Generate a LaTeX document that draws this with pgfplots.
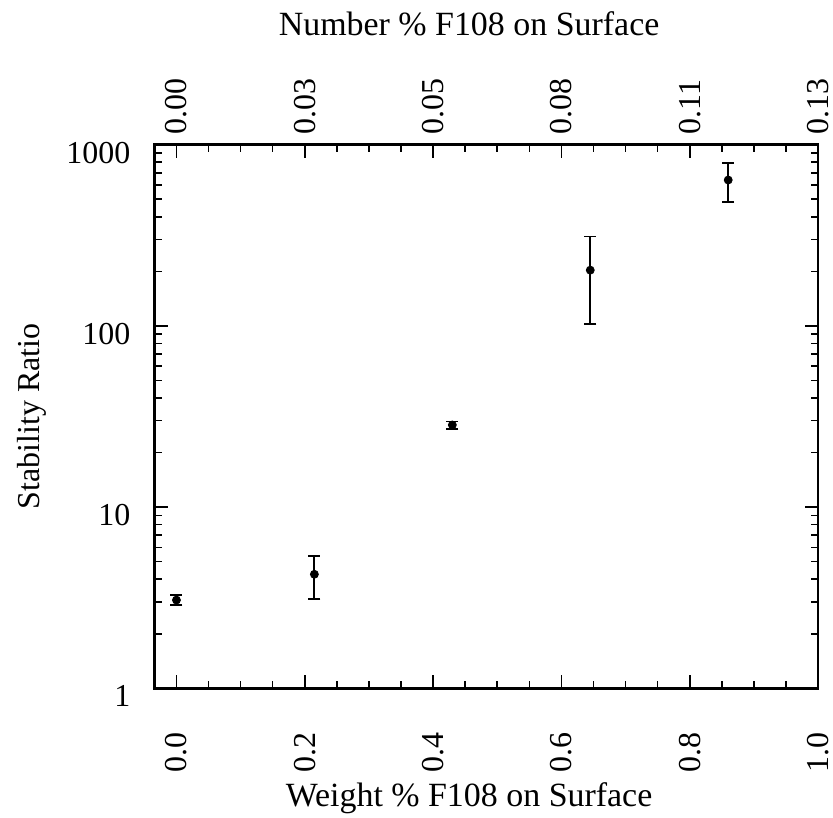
\documentclass[border=0pt]{standalone}
\usepackage{fontspec}
\setmainfont{Liberation Serif}
\usepackage{pgfplots}
\pgfplotsset{compat=1.18}
\begin{document}
\begin{tikzpicture}
\begin{axis}[
  scale only axis, width=332.5pt, height=272.5pt,
  xmin=-0.034, xmax=1.0,
  ymode=log, ymin=1, ymax=1000,
  xtick={0,0.2,0.4,0.6,0.8,1.0},
  xticklabels={0.0,0.2,0.4,0.6,0.8,1.0},
  minor x tick num=3,
  ytick={1,10,100,1000},
  yticklabels={1,10,100,1000},
  tick align=inside,
  xtick pos=both, ytick pos=both,
  xticklabel pos=lower, yticklabel pos=left,
  axis line style={line width=1.4pt},
  major tick style={line width=0.9pt, black},
  minor tick style={line width=0.8pt, black},
  major tick length=6.5pt, minor tick length=3.5pt,
  ticklabel style={font=\fontsize{16}{19}\selectfont},
  /pgf/number format/assume math mode=true,
  xticklabel style={rotate=90, anchor=east, inner sep=0pt},
  xticklabel shift=22pt,
  yticklabel style={anchor=east, inner sep=0pt, yshift=-4pt},
  yticklabel shift=12pt,
  xlabel={Weight \% F108 on Surface},
  ylabel={Stability Ratio},
  label style={font=\fontsize{17}{20}\selectfont},
  xlabel style={at={(axis description cs:0.474,-0.202)}, anchor=center},
  ylabel style={font=\fontsize{16}{19}\selectfont, at={(axis description cs:-0.185,0.5)}, anchor=center, rotate=0},
]
\addplot[only marks, mark=*, mark size=2pt, black,
  error bars/.cd, y dir=both, y explicit,
  error bar style={line width=0.9pt, black},
  error mark=-,
  error mark options={rotate=90, mark size=3pt, line width=0.9pt, black}]
coordinates {
  (0.0,3.07) += (0,0.21) -= (0,0.18)
  (0.215,4.26) += (0,1.09) -= (0,1.15)
  (0.43,28.4) += (0,1.3) -= (0,1.3)
  (0.645,203) += (0,108) -= (0,101)
  (0.86,638) += (0,156) -= (0,157)
};
\end{axis}
\begin{axis}[
  scale only axis, width=332.5pt, height=272.5pt,
  xmin=-0.034, xmax=1.0,
  ymode=log, ymin=1, ymax=1000,
  xtick={0,0.2,0.4,0.6,0.8,1.0},
  xticklabels={0.00,0.03,0.05,0.08,0.11,0.13},
  ytick=\empty,
  xticklabel pos=upper,
  axis line style={draw=none},
  major tick length=0pt, minor tick num=0,
  ticklabel style={font=\fontsize{16}{19}\selectfont},
  xticklabel style={rotate=90, anchor=west, inner sep=0pt},
  xticklabel shift=5pt,
  xlabel={Number \% F108 on Surface},
  label style={font=\fontsize{17}{20}\selectfont},
  xlabel style={at={(axis description cs:0.474,1.222)}, anchor=center},
]
\end{axis}
\pgfresetboundingbox
\useasboundingbox (-77.5pt,-64.5pt) rectangle (340pt,345pt);
\end{tikzpicture}
\end{document}
